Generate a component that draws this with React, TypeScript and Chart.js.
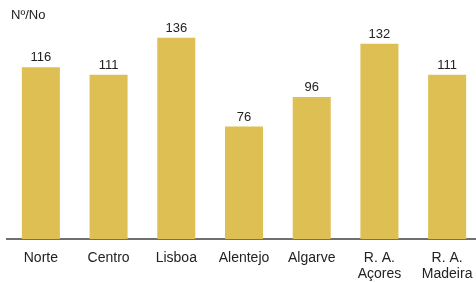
import React, { useEffect, useRef } from "react";
import { Chart, registerables } from "chart.js";

Chart.register(...registerables);

const categories: (string | string[])[] = [
  "Norte",
  "Centro",
  "Lisboa",
  "Alentejo",
  "Algarve",
  ["R. A.", "Açores"],
  ["R. A.", "Madeira"],
];
const values: number[] = [116, 111, 136, 76, 96, 132, 111];
const unitLabel = "Nº/No";

const FONT = "'Liberation Sans', Arial, sans-serif";

export default function App() {
  const ref = useRef<HTMLCanvasElement | null>(null);

  useEffect(() => {
    if (!ref.current) return;
    const labelPlugin = {
      id: "valueLabels",
      afterDatasetsDraw(chart: any) {
        const ctx = chart.ctx;
        const meta = chart.getDatasetMeta(0);
        ctx.save();
        ctx.font = `13px ${FONT}`;
        ctx.fillStyle = "#222222";
        ctx.textAlign = "center";
        ctx.textBaseline = "middle";
        meta.data.forEach((bar: any, i: number) => {
          ctx.fillText(String(values[i]), bar.x, bar.y - 9.5);
        });
        ctx.textAlign = "left";
        ctx.fillText(unitLabel, 11, 15);
        ctx.restore();
      },
    };
    const chart = new Chart(ref.current, {
      type: "bar",
      data: {
        labels: categories,
        datasets: [
          {
            data: values,
            backgroundColor: "#DDBF53",
            borderWidth: 0,
            categoryPercentage: 1,
            barPercentage: 0.5615,
          },
        ],
      },
      options: {
        animation: false,
        responsive: false,
        maintainAspectRatio: false,
        devicePixelRatio: 1,
        layout: { padding: { top: 17, left: 7, right: 4, bottom: 0 } },
        plugins: {
          legend: { display: false },
          tooltip: { enabled: false },
        },
        scales: {
          x: {
            grid: { display: false, drawTicks: false },
            border: { display: true, color: "#6F6F6F", width: 2 },
            ticks: {
              color: "#222222",
              font: { family: FONT, size: 14, lineHeight: 1.15 },
              padding: 11,
              maxRotation: 0,
              autoSkip: false,
            },
            afterFit: (scale: any) => {
              scale.height = 43;
            },
          },
          y: {
            display: false,
            min: 0,
            max: 150,
          },
        },
      },
      plugins: [labelPlugin],
    });
    return () => chart.destroy();
  }, []);

  return (
    <div
      style={{
        position: "fixed",
        left: 0,
        top: 0,
        width: 476,
        height: 282,
        overflow: "hidden",
        background: "#ffffff",
      }}
    >
      <canvas ref={ref} width={485} height={282} style={{ display: "block" }} />
    </div>
  );
}
